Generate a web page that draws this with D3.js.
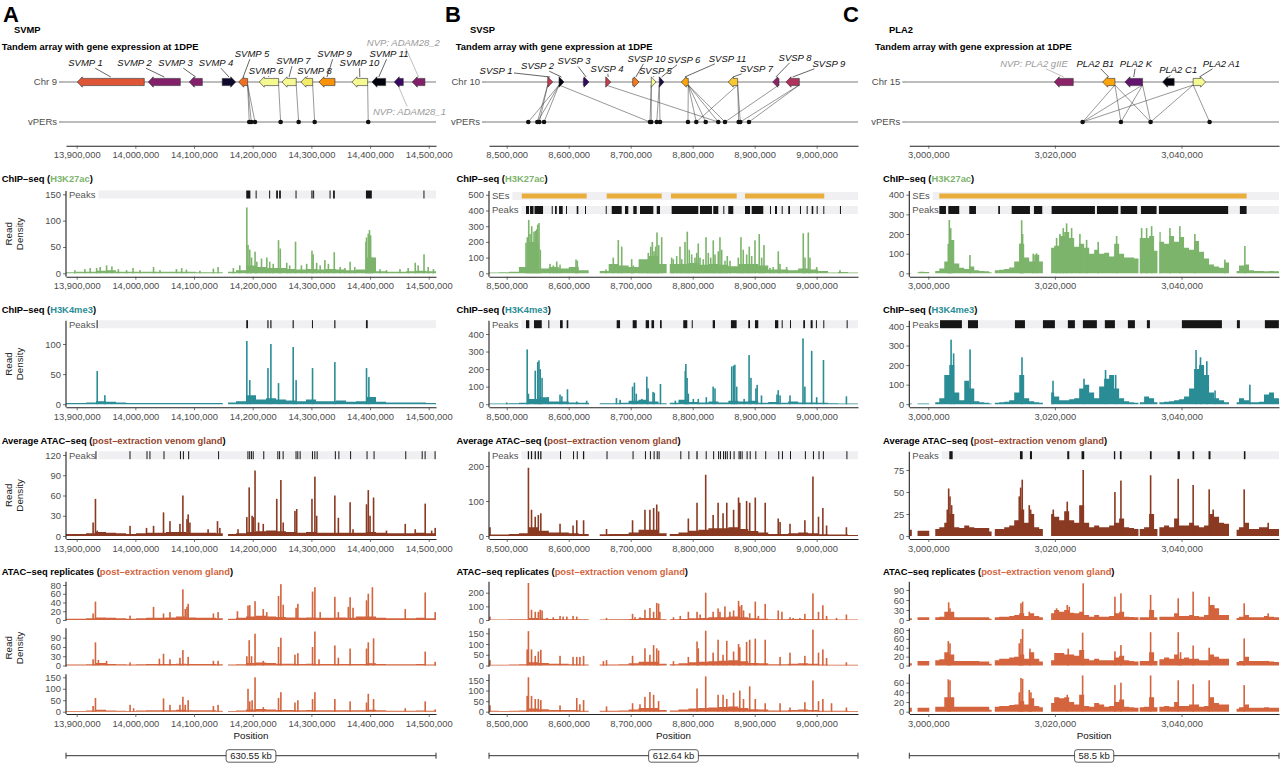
<!DOCTYPE html>
<html>
<head>
<meta charset="utf-8">
<script src="https://cdn.jsdelivr.net/npm/d3@7"></script>
<style>
  body { margin: 0; background: #fff; }
  svg text { font-family: "Liberation Sans", Arial, Helvetica, sans-serif; }
</style>
</head>
<body>
<svg id="fig" width="1280" height="763"></svg>
<script>
// ---------------- data (positions in kb) ----------------
const panelLetters = ["A", "B", "C"];
const families = ["SVMP", "SVSP", "PLA2"];
const chromosomes = ["Chr 9", "Chr 10", "Chr 15"];
const scaleLabels = ["630.55 kb", "612.64 kb", "58.5 kb"];
const domains = [[13881.8, 14512.4], [8471.4, 9066.7], [2997.0, 3055.4]];
const xTicks = [
  [13900, 14000, 14100, 14200, 14300, 14400, 14500],
  [8500, 8600, 8700, 8800, 8900, 9000],
  [3000, 3020, 3040]
];
const yTicks = [
  [[0, 50, 100, 150], [0, 50, 100], [0, 30, 60, 90, 120], [0, 20, 40, 60, 80], [0, 30, 60, 90], [0, 50, 100, 150]],
  [[0, 100, 200, 300, 400, 500], [0, 100, 200, 300, 400], [0, 100, 200], [0, 100, 200], [0, 50, 100, 150], [0, 50, 100, 150]],
  [[0, 100, 200, 300, 400], [0, 100, 200, 300, 400], [0, 25, 50, 75], [0, 30, 60, 90], [0, 20, 40, 60, 80], [0, 20, 40, 60]]
];
// expression level at 1DPE (0..1)
const svmpGenes = [
  {name: "SVMP 1", start: 13901.1, end: 14015.2, strand: -1, expr: 0.61},
  {name: "SVMP 2", start: 14022.0, end: 14076.6, strand: -1, expr: 0.36},
  {name: "SVMP 3", start: 14091.9, end: 14114.1, strand: -1, expr: 0.36},
  {name: "SVMP 4", start: 14148.1, end: 14171.0, strand: 1, expr: 0.08},
  {name: "SVMP 5", start: 14176.1, end: 14191.4, strand: -1, expr: 0.68},
  {name: "SVMP 6", start: 14211.2, end: 14244.2, strand: -1, expr: 0.98},
  {name: "SVMP 7", start: 14249.9, end: 14274.2, strand: -1, expr: 0.98},
  {name: "SVMP 8", start: 14282.2, end: 14302.2, strand: -1, expr: 0.94},
  {name: "SVMP 9", start: 14312.9, end: 14340.2, strand: -1, expr: 0.76},
  {name: "SVMP 10", start: 14369.1, end: 14395.9, strand: -1, expr: 0.98},
  {name: "SVMP 11", start: 14403.2, end: 14426.6, strand: -1, expr: 0.02},
  {name: "NVP: ADAM28_1", start: 14441.2, end: 14456.6, strand: -1, expr: 0.18, nvp: true},
  {name: "NVP: ADAM28_2", start: 14471.9, end: 14493.5, strand: -1, expr: 0.36, nvp: true}
];
const svspGenes = [
  {name: "SVSP 1", start: 8566.1, end: 8574.2, strand: 1, expr: 0.52},
  {name: "SVSP 2", start: 8584.4, end: 8592.4, strand: 1, expr: 0.03},
  {name: "SVSP 3", start: 8623.6, end: 8632.7, strand: 1, expr: 0.17},
  {name: "SVSP 4", start: 8659.7, end: 8667.8, strand: 1, expr: 0.53},
  {name: "SVSP 10", start: 8703.2, end: 8713.4, strand: 1, expr: 0.70},
  {name: "SVSP 5", start: 8733.2, end: 8740.8, strand: 1, expr: 0.98},
  {name: "SVSP 6", start: 8746.1, end: 8753.7, strand: 1, expr: 0.12},
  {name: "SVSP 11", start: 8781.6, end: 8792.9, strand: -1, expr: 0.80},
  {name: "SVSP 7", start: 8857.4, end: 8872.6, strand: -1, expr: 0.87},
  {name: "SVSP 8", start: 8929.1, end: 8939.2, strand: -1, expr: 0.38},
  {name: "SVSP 9", start: 8950.5, end: 8972.0, strand: -1, expr: 0.47}
];
const pla2Genes = [
  {name: "NVP: PLA2 gIIE", start: 3019.9, end: 3022.9, strand: -1, expr: 0.38, nvp: true},
  {name: "PLA2 B1", start: 3027.54, end: 3029.48, strand: -1, expr: 0.80},
  {name: "PLA2 K", start: 3031.06, end: 3033.85, strand: -1, expr: 0.28},
  {name: "PLA2 C1", start: 3037.01, end: 3038.84, strand: -1, expr: 0.02},
  {name: "PLA2 A1", start: 3041.84, end: 3043.80, strand: 1, expr: 0.98}
];
const svmpVpers = [14194.1, 14197.6, 14203.9, 14247.6, 14278.3, 14305.6, 14396.9];
const svspVpers = [8534.8, 8549.4, 8552.6, 8560.2, 8731.1, 8733.2, 8742.0, 8747.3, 8792.4, 8805.8, 8821.0, 8841.3, 8852.1, 8874.2, 8876.8, 8890.8];
const pla2Vpers = [3024.38, 3030.43, 3035.12, 3044.44];
const svmpLinks = [["SVMP 5", 14194.1], ["SVMP 5", 14197.6], ["SVMP 5", 14203.9], ["SVMP 6", 14247.6], ["SVMP 7", 14278.3], ["SVMP 8", 14305.6], ["SVMP 10", 14396.9]];
const svspLinks = [["SVSP 1", 8549.4], ["SVSP 1", 8552.6], ["SVSP 2", 8534.8], ["SVSP 2", 8549.4], ["SVSP 2", 8560.2], ["SVSP 2", 8731.1],
  ["SVSP 4", 8841.3], ["SVSP 5", 8731.1], ["SVSP 5", 8733.2], ["SVSP 6", 8742.0], ["SVSP 6", 8747.3],
  ["SVSP 11", 8792.4], ["SVSP 11", 8805.8], ["SVSP 11", 8821.0], ["SVSP 11", 8841.3], ["SVSP 11", 8852.1],
  ["SVSP 7", 8874.2], ["SVSP 7", 8876.8], ["SVSP 7", 8805.8], ["SVSP 8", 8852.1], ["SVSP 9", 8876.8], ["SVSP 9", 8890.8]];
const pla2Links = [["PLA2 B1", 3024.38], ["PLA2 B1", 3030.43], ["PLA2 B1", 3035.12], ["PLA2 K", 3024.38], ["PLA2 K", 3030.43], ["PLA2 K", 3035.12],
  ["PLA2 A1", 3024.38], ["PLA2 A1", 3035.12], ["PLA2 A1", 3044.44]];
const svmpGaps = [[14149, 14158]];
const svspGaps = [[8633, 8650], [8758, 8763]];
const pla2Gaps = [[2997.4, 2998.3], [3000.3, 3001.1], [3010.0, 3010.5], [3018.1, 3019.4], [3033.2, 3033.4], [3036.2, 3036.5], [3047.5, 3048.7]];

// ---- SVMP signal ----
const svmpH3K27acBg = [2,3,3,5,6,3,3,3,3,3,3,3,3,2,2,2,3,6,15,12,10,10,8,7,8,7,8,7,6,7,30,4,3,3,4,5,4];
const svmpH3K27acSpikes = [[13897,6],[13914,8],[13923,10],[13934,10],[13940,12],[13951,15],[13960,13],[13971,8],[13985,6],[13996,10],[14008,6],[14031,12],[14042,6],[14070,8],[14079,10],[14087,7],[14110,5],[14133,9],[14141,12],
  [14167,10],[14178,15],[14190,125],[14192,54],[14195,45],[14198,30],[14204,41],[14207,22],[14215,28],[14224,30],[14229,22],[14235,18],[14244,63],[14247,47],[14258,20],[14263,15],[14273,60],[14283,15],[14292,18],[14301,43],[14303,36],[14309,20],[14315,15],[14323,25],[14329,18],[14339,40],[14349,12],[14357,10],[14366,22],[14374,12],
  [14393,60],[14394,68],[14397,75],[14399,82],[14401,72],[14404,30],[14417,8],[14428,6],[14451,8],[14465,10],[14477,20],[14482,15],[14492,36],[14499,12],[14508,8]];
const svmpH3K27acPeaks = [[14189,14196],[14205,14206],[14228,14229],[14240,14243],[14245,14248],[14273,14274],[14300,14302],[14303,14304],[14331,14332],[14337,14340],[14393,14403],[14491,14492]];
const svmpH3K4me3Bg = [2,2,3,5,4,3,2,2,2,2,2,2,2,2,2,2,3,5,15,8,10,8,6,5,8,5,5,6,4,5,12,4,3,3,3,3,2];
const svmpH3K4me3Spikes = [[13935,55],[13948,15],[14190,105],[14195,40],[14226,60],[14231,100],[14244,35],[14269,95],[14274,40],[14302,60],[14340,70],[14394,60],[14398,45]];
const svmpH3K4me3Peaks = [[13934,13935],[14189,14192],[14225,14227],[14230,14232],[14268,14270],[14301,14302],[14339,14341],[14393,14396]];
const svmpAtacBg = [3,3,4,6,5,4,3,4,5,5,6,6,5,5,5,4,3,4,6,7,8,7,6,5,6,5,5,5,5,5,6,5,4,4,4,5,4];
const svmpAtacSpikes = [[13928,20],[13932,55],[13935,8],[13991,15],[14019,12],[14031,15],[14048,35],[14059,22],[14076,18],[14081,60],[14088,25],[14090,32],[14093,20],[14124,10],[14140,22],[14144,12],[14175,10],[14190,28],[14194,72],[14199,30],[14201,28],[14204,97],[14210,20],[14218,18],[14241,55],[14248,83],[14252,20],[14272,37],[14275,40],[14301,55],[14306,88],[14309,30],[14340,60],[14346,27],[14366,50],[14371,10],[14394,47],[14397,68],[14400,30],[14406,57],[14428,8],[14460,18],[14477,10],[14494,48],[14505,8],[14511,12]];
const svmpAtacPeaks = [[13932,13933],[13990,13991],[14019,14020],[14024,14025],[14048,14049],[14076,14077],[14081,14082],[14090,14091],[14141,14142],[14191,14192],[14194,14195],[14197,14198],[14200,14201],[14218,14219],[14242,14243],[14245,14246],[14251,14252],[14273,14274],[14276,14277],[14280,14281],[14301,14302],[14305,14306],[14309,14310],[14340,14341],[14346,14347],[14366,14367],[14394,14395],[14406,14407],[14460,14461],[14488,14489],[14493,14494],[14510,14511]];
const svmpRep1Bg = [3,3,4,6,5,4,3,4,5,5,6,8,6,5,5,4,3,5,8,10,8,7,6,5,6,5,5,6,5,8,8,5,4,4,4,5,4];
const svmpRep1Spikes = [[13928,15],[13932,42],[13991,10],[14031,30],[14048,15],[14059,18],[14081,70],[14085,25],[14088,30],[14090,37],[14133,15],[14141,18],[14174,20],[14192,33],[14195,34],[14204,43],[14218,25],[14224,18],[14244,55],[14248,82],[14252,35],[14274,28],[14277,37],[14302,65],[14306,75],[14315,18],[14340,53],[14346,18],[14363,30],[14366,52],[14371,28],[14394,45],[14397,60],[14404,75],[14460,25],[14494,63],[14511,18]];
const svmpRep2Bg = [3,3,4,8,5,4,3,4,5,5,5,6,5,5,5,4,3,4,8,10,8,6,6,5,6,5,5,5,5,5,7,5,4,4,4,5,3];
const svmpRep2Spikes = [[13928,20],[13932,75],[13937,18],[13951,15],[13991,10],[14041,22],[14048,38],[14059,20],[14076,25],[14081,50],[14090,28],[14133,15],[14141,15],[14190,30],[14194,82],[14198,30],[14204,103],[14218,15],[14244,60],[14248,90],[14272,35],[14277,40],[14302,60],[14306,110],[14313,20],[14340,65],[14346,25],[14366,55],[14394,55],[14397,75],[14406,88],[14494,45],[14511,12]];
const svmpRep3Bg = [3,3,5,8,5,4,3,5,6,6,6,8,6,6,6,4,3,5,10,12,10,7,7,6,7,6,6,6,6,6,8,6,4,4,4,5,4];
const svmpRep3Spikes = [[13928,25],[13932,60],[13991,30],[13997,15],[14048,58],[14059,30],[14076,30],[14081,65],[14085,30],[14090,50],[14133,25],[14141,30],[14192,100],[14195,45],[14199,50],[14204,150],[14218,20],[14244,60],[14248,85],[14272,40],[14277,50],[14302,55],[14306,85],[14340,55],[14366,45],[14394,40],[14397,78],[14406,55],[14460,15],[14494,45],[14511,10]];

// ---- SVSP signal ----
const svspH3K27acBg = [5,6,10,40,200,30,40,30,40,20,0,15,60,50,40,90,110,60,60,60,65,55,60,55,45,60,60,50,25,25,20,30,25,15,5,8,5];
const svspH3K27acSpikes = [[8531.1,195],[8533.2,230],[8535.5,340],[8537.6,250],[8540.3,300],[8542.4,200],[8544.0,265],[8546.1,270],[8548.4,280],[8550.0,310],[8552.1,320],[8554.2,150],[8569.8,60],[8575.2,50],[8580.7,75],[8586.0,55],[8611.8,88],[8613.9,80],[8660.2,25],[8671.9,100],[8680.0,212],[8685.5,170],[8701.6,90],[8704.2,50],[8715.0,35],[8720.3,40],[8725.8,30],[8728.4,130],[8732.3,170],[8734.9,200],[8737.6,140],[8740.3,170],[8742.4,260],[8745.2,180],[8750.0,230],
  [8766.1,100],[8768.7,90],[8774.2,110],[8779.5,170],[8782.3,90],[8787.6,200],[8791.3,265],[8794.5,150],[8798.4,120],[8803.7,100],[8806.5,130],[8809.0,190],[8811.8,100],[8817.1,90],[8821.5,230],[8825.2,130],[8829.1,100],[8833.2,210],[8836.0,120],[8841.3,140],[8844.0,230],[8846.8,150],[8852.1,80],[8855.8,110],[8860.2,80],
  [8873.6,100],[8877.9,230],[8881.6,150],[8887.1,120],[8891.3,170],[8895.2,110],[8900.5,210],[8907.4,250],[8911.3,100],[8915.0,180],[8924.7,35],[8930.0,40],[8938.1,140],[8940.8,60],[8951.6,40],[8978.4,255],[8981.2,100],[8986.5,260],[8989.2,100],[9000.0,40],[9037.6,20]];
const svspH3K27acSEs = [[8524.2, 8629.0], [8661.3, 8750.0], [8765.0, 8871.0], [8884.4, 9012.3]];
const svspH3K27acPeaks = [[8531.1,8536.0],[8537.6,8543.2],[8544.8,8558.6],[8572.6,8573.1],[8577.9,8580.7],[8584.4,8590.3],[8595.6,8596.5],[8612.9,8615.5],[8626.3,8627.1],[8659.7,8660.2],[8669.4,8685.5],[8690.8,8696.1],[8704.2,8709.7],[8715.0,8736.5],[8742.0,8747.3],[8766.1,8809.0],[8811.8,8831.1],[8833.2,8841.3],[8849.4,8850.5],[8857.4,8865.5],[8884.4,8892.5],[8895.2,8913.9],[8924.7,8925.5],[8932.8,8936.0],[8943.6,8944.9],[8954.2,8957.0],[8973.1,8973.9],[8983.9,8985.2],[8992.0,8994.5],[9000.0,9001.3],[9010.7,9011.8],[9037.6,9038.4]];
const svspH3K4me3Bg = [4,4,5,8,30,40,15,15,10,8,5,5,5,8,20,25,15,5,8,25,12,10,15,10,20,15,20,8,12,8,15,10,10,8,5,4,4];
const svspH3K4me3Spikes = [[8500,10],[8533,312],[8535,60],[8546,191],[8550,240],[8552,250],[8554,200],[8557,150],[8567,40],[8586,55],[8589,45],[8598,85],[8613,15],[8629,20],[8677,35],[8683,25],[8703,100],[8706,123],[8709,60],[8718,30],[8726,157],[8728,90],[8736,70],[8738,65],[8748,115],[8772,20],[8788,190],[8789,229],[8791,150],[8793,60],[8801,30],[8809,30],[8822,40],[8833,100],[8836,90],[8863,215],[8866,220],[8868,225],[8871,100],[8883,30],[8891,280],[8894,150],[8902,90],[8904,110],[8911,50],[8936,55],[8938,80],[8941,50],[8957,50],[8978,375],[8981,100],[8992,304],[9000,40],[9011,252],[9048,45]];
const svspH3K4me3Peaks = [[8531.1,8536.4],[8544.0,8556.5],[8567.1,8567.6],[8586.0,8590.3],[8596.7,8599.3],[8677.4,8682.8],[8703.2,8709.7],[8724.2,8729.6],[8733.5,8737.7],[8747.3,8750.0],[8784.8,8791.3],[8798.5,8799.2],[8832.3,8836.0],[8861.7,8870.9],[8889.7,8892.5],[8900.5,8905.8],[8932.8,8938.1],[8943.6,8944.3],[8957.0,8957.7],[8978.4,8981.2],[8990.3,8993.5],[8998.8,8999.5],[9010.7,9011.4],[9048.4,9049.1]];
const svspAtacBg = [4,4,6,8,25,15,10,10,8,6,0,5,6,6,10,18,18,8,6,10,15,18,22,22,25,20,14,10,6,6,8,10,8,5,4,4,3];
const svspAtacSpikes = [[8473,25],[8535,195],[8540,75],[8546,55],[8551,60],[8555,65],[8586,35],[8607,30],[8613,45],[8624,45],[8661,20],[8703,45],[8723,75],[8731,75],[8737,80],[8742,90],[8745,70],[8793,50],[8807,95],[8821,175],[8833,60],[8841,95],[8849,65],[8855,95],[8866,75],[8874,110],[8876,95],[8887,100],[8892,95],[8901,110],[8917,95],[8938,50],[8941,40],[8957,35],[8981,45],[8994,170],[9003,55],[9010,80],[9016,30],[9048,25]];
const svspAtacPeaks = [[8534,8536],[8539,8541],[8545,8547],[8550,8552],[8554,8556],[8586,8587],[8607,8608],[8613,8614],[8623,8625],[8661,8662],[8703,8704],[8723,8724],[8731,8732],[8737,8738],[8742,8743],[8745,8746],[8780,8781],[8793,8794],[8806,8808],[8821,8822],[8833,8834],[8841,8842],[8844,8845],[8849,8850],[8852,8853],[8855,8856],[8860,8861],[8866,8867],[8874,8875],[8876,8877],[8879,8880],[8887,8888],[8892,8893],[8901,8902],[8917,8918],[8938,8939],[8944,8945],[8957,8958],[8981,8982],[8994,8995],[9003,9004],[9010,9011],[9048,9049]];
const svspRep1Bg = [3,3,5,6,15,10,8,6,5,5,0,4,5,5,8,15,15,6,5,8,12,15,20,20,25,20,12,10,6,6,8,8,8,5,4,4,4];
const svspRep1Spikes = [[8473,25],[8535,271],[8540,75],[8546,60],[8551,60],[8554,75],[8557,70],[8565,15],[8575,20],[8586,30],[8591,25],[8597,25],[8607,30],[8613,25],[8661,15],[8703,45],[8707,20],[8715,20],[8723,75],[8731,88],[8737,60],[8742,125],[8745,120],[8747,60],[8769,20],[8780,30],[8793,60],[8807,60],[8812,40],[8821,200],[8833,60],[8841,85],[8844,60],[8852,100],[8860,60],[8866,70],[8874,140],[8876,100],[8879,110],[8882,70],[8892,50],[8901,135],[8906,30],[8917,118],[8938,70],[8944,60],[8957,20],[8962,15],[8973,15],[8981,45],[8994,195],[9003,60],[9010,108],[9016,30],[9032,15],[9048,40]];
const svspRep2Bg = [3,3,5,6,15,12,8,8,6,5,0,5,5,6,10,18,18,8,6,10,15,18,20,22,25,20,12,10,6,6,8,10,8,5,4,4,3];
const svspRep2Spikes = [[8473,25],[8533,75],[8535,160],[8540,75],[8546,45],[8551,65],[8555,73],[8586,45],[8607,40],[8613,40],[8618,40],[8624,45],[8656,20],[8661,25],[8703,45],[8723,80],[8731,50],[8737,95],[8742,80],[8745,70],[8769,20],[8793,40],[8807,112],[8809,80],[8821,162],[8833,60],[8841,120],[8849,50],[8855,115],[8866,65],[8874,100],[8876,85],[8887,110],[8892,120],[8901,125],[8917,120],[8941,40],[8957,60],[8981,45],[8994,167],[9003,60],[9010,75],[9016,35],[9048,15]];
const svspRep3Bg = [5,3,5,6,15,12,8,8,8,5,0,5,5,6,10,18,18,8,6,10,15,18,20,22,25,18,12,10,6,6,8,10,8,5,4,4,3];
const svspRep3Spikes = [[8473,30],[8533,75],[8535,163],[8540,75],[8546,60],[8551,60],[8555,55],[8586,30],[8613,65],[8618,35],[8624,55],[8661,25],[8703,40],[8715,35],[8723,70],[8731,93],[8737,80],[8745,50],[8807,110],[8821,167],[8841,80],[8849,80],[8855,60],[8866,90],[8876,100],[8882,60],[8892,120],[8901,60],[8917,40],[8941,40],[8957,20],[8981,45],[8994,148],[9003,50],[9010,60],[9024,40],[9048,20]];

// ---- PLA2 signal ----
const pla2H3K27acBg = [2,5,8,6,0,12,25,60,170,50,28,22,35,15,12,10,5,15,18,22,30,60,150,80,60,95,60,0,130,140,190,210,180,135,150,130,100,120,100,105,85,150,100,80,80,75,180,180,190,115,160,150,190,160,185,130,120,165,110,75,45,35,28,55,0,12,40,45,15,12,12,10,12,10];
const pla2H3K27acSpikes = [[3003.16,150],[3003.32,271],[3003.54,230],[3003.74,160],[3006.58,93],[3014.48,150],[3014.75,270],[3014.9,200],[3016.58,100],[3017.1,102],[3020.27,180],[3020.8,200],[3021.32,230],[3021.85,254],[3022.64,230],[3023.95,200],[3025.01,170],[3026.84,160],[3029.75,190],[3033.7,230],[3034.49,230],[3035.28,240],[3036.59,210],[3038.17,230],[3039.74,240],[3042.11,200],[3046.85,70],[3050.01,139]];
const pla2H3K27acSEs = [[3001.74, 3050.28]];
const pla2H3K27acPeaks = [[3001.74,3002.79],[3003.16,3004.89],[3006.47,3007.53],[3011.05,3011.32],[3013.17,3016.06],[3016.69,3018.0],[3019.48,3026.32],[3026.64,3030.0],[3030.38,3033.0],[3033.59,3036.06],[3036.43,3047.37],[3049.22,3050.28]];
const pla2H3K4me3Bg = [3,3,4,4,0,10,30,150,200,60,20,120,80,15,10,8,4,8,10,12,20,60,150,30,15,10,8,0,60,40,20,20,25,30,80,100,60,30,90,130,150,80,30,15,10,8,10,40,30,10,10,12,15,20,25,40,80,180,200,150,60,30,20,10,0,10,30,20,10,10,12,50,60,30];
const pla2H3K4me3Spikes = [[3003.6,330],[3004.0,260],[3006.6,280],[3014.8,240],[3019.7,120],[3024.6,130],[3028.0,175],[3029.6,150],[3042.3,277],[3043.0,240],[3044.0,220],[3045.3,70],[3050.8,100]];
const pla2H3K4me3Peaks = [[3001.85,3005.31],[3006.27,3007.85],[3013.69,3015.27],[3018.11,3020.0],[3022.05,3023.16],[3024.42,3026.63],[3027.89,3029.48],[3031.53,3032.64],[3034.53,3035.01],[3040.06,3046.38],[3048.75,3049.22],[3053.17,3055.38]];
const pla2AtacBg = [7,6,6,6,0,8,10,15,25,10,9,12,10,9,9,9,5,8,8,10,12,18,30,15,25,10,8,0,25,22,18,28,18,15,35,15,10,12,10,10,12,15,20,10,9,8,8,10,25,8,10,12,10,20,12,12,15,12,10,12,25,22,15,14,0,7,10,15,8,8,10,10,8,8];
const pla2AtacSpikes = [[3003.0,30],[3003.22,54],[3003.43,45],[3003.69,35],[3014.37,45],[3014.59,55],[3014.84,64],[3015.95,35],[3016.17,30],[3019.74,30],[3021.95,39],[3024.47,75],[3029.48,50],[3030.43,63],[3035.12,69],[3039.48,65],[3041.84,58],[3044.37,53],[3045.0,30],[3049.9,53],[3053.69,15]];
const pla2AtacPeaks = [[3003.32,3003.85],[3014.48,3014.9],[3016.06,3016.38],[3021.95,3022.27],[3024.21,3024.63],[3029.32,3029.53],[3030.27,3030.53],[3035.01,3035.28],[3039.38,3039.74],[3041.74,3042.0],[3044.27,3044.58],[3049.85,3050.1]];
const pla2Rep1Bg = [5,8,8,8,0,8,10,25,25,8,8,8,8,8,8,8,4,8,10,10,12,15,20,12,20,12,8,0,20,30,25,30,22,20,25,15,10,15,10,10,12,20,25,10,9,8,8,8,30,8,10,10,10,20,12,12,15,12,10,15,45,35,15,15,0,6,10,15,8,8,8,12,10,8];
const pla2Rep1Spikes = [[3003.22,53],[3003.43,35],[3014.64,50],[3014.9,55],[3015.95,25],[3020.27,35],[3021.95,45],[3022.27,40],[3024.47,110],[3029.48,70],[3030.43,80],[3035.12,75],[3039.48,65],[3041.84,85],[3044.37,70],[3045.1,45],[3049.9,50],[3053.69,20]];
const pla2Rep2Bg = [5,10,10,10,0,12,14,30,25,10,10,10,10,10,9,9,4,12,15,15,18,20,25,15,30,15,9,0,12,28,28,25,25,22,35,15,12,15,12,12,12,18,22,12,10,9,10,10,30,10,14,18,15,25,15,18,15,15,12,12,25,20,15,15,0,8,10,20,10,10,10,10,9,8];
const pla2Rep2Spikes = [[3003.16,55],[3003.43,50],[3014.37,50],[3014.64,60],[3014.9,82],[3016.06,38],[3022.11,38],[3024.38,74],[3029.48,32],[3030.43,46],[3035.12,75],[3039.48,75],[3039.85,30],[3041.84,45],[3044.37,40],[3049.9,61]];
const pla2Rep3Bg = [8,8,8,8,0,10,10,30,30,10,10,10,10,10,10,10,4,10,12,12,14,15,22,15,28,12,9,0,18,30,28,30,20,15,35,12,10,18,15,10,12,20,25,10,9,8,9,10,30,9,10,12,10,20,12,12,15,15,10,12,30,18,15,15,0,6,9,15,8,8,8,9,8,8];
const pla2Rep3Spikes = [[3003.16,67],[3003.43,65],[3014.37,40],[3014.64,70],[3014.9,68],[3015.95,45],[3016.22,40],[3021.95,35],[3024.38,75],[3029.48,55],[3030.43,60],[3035.12,75],[3039.48,65],[3041.84,57],[3044.37,65],[3049.9,55]];

// ---------------- layout ----------------
const svg = d3.select("#fig");
const defs = svg.append("defs");
const fmt = d3.format(",");
const GREY = "#4d4d4d";
const colH3K27ac = "#7cb46b", colH3K4me3 = "#2a8d96", colAtac = "#8a3a22", colRep = "#d3643d", colSE = "#e8ad3a";

const panelX = [[66, 436], [489, 858], [909.3, 1279]];
const letterX = [3, 445, 843];
const familyX = [14, 470, 889];
const geneTitleX = [1.7, 455.7, 875];
const trackTitleX = [1.7, 456.5, 883];
// value at top tick and its pixel row, per panel x row
const yCal = [
  [[150, 194.3], [100, 344], [120, 455], [80, 585], [90, 637.7], [150, 677.3]],
  [[500, 194.8], [400, 334], [200, 466], [200, 592.7], [150, 633.3], [150, 680]],
  [[400, 194.7], [400, 326], [75, 470], [90, 590], [80, 630], [60, 682.7]]
];
const rows = [
  {top: 191, zero: 273.3, bottom: 276.7, axis: true},
  {top: 320.7, zero: 404.2, bottom: 407.3, axis: true},
  {top: 451.7, zero: 536, bottom: 539, axis: true},
  {top: 581.7, zero: 620, bottom: 620.7, axis: false},
  {top: 628.3, zero: 665.5, bottom: 666.7, axis: false},
  {top: 674.3, zero: 711.7, bottom: 714, axis: true}
];
const titles = [
  {y: 181.7, pre: "ChIP–seq (", mark: "H3K27ac", col: colH3K27ac},
  {y: 312.5, pre: "ChIP–seq (", mark: "H3K4me3", col: colH3K4me3},
  {y: 444, pre: "Average ATAC–seq (", mark: "post–extraction venom gland", col: "#94452d"},
  {y: 575, pre: "ATAC–seq replicates (", mark: "post–extraction venom gland", col: colRep}
];
// label centre offsets from gene centre (px) and label centre y (px)
const labelPos = [
  {"SVMP 1": [-25.3, 62.7], "SVMP 2": [-29.8, 62.7], "SVMP 3": [-20.3, 62.7], "SVMP 4": [-13, 62.7], "SVMP 5": [8.8, 53.7],
   "SVMP 6": [-3, 70.7], "SVMP 7": [4.3, 60.7], "SVMP 8": [7.7, 70.7], "SVMP 9": [7.5, 53.7], "SVMP 10": [-0.3, 62.7],
   "SVMP 11": [10.2, 53.7], "NVP: ADAM28_1": [10.7, 112], "NVP: ADAM28_2": [-15.2, 42.7]},
  {"SVSP 1": [-54.2, 71], "SVSP 2": [-24, 65.7], "SVSP 3": [-12.2, 61], "SVSP 4": [-1.2, 68.3], "SVSP 10": [10.7, 58.3],
   "SVSP 5": [1.8, 70.7], "SVSP 6": [22.3, 59.3], "SVSP 11": [42.7, 58.3], "SVSP 7": [23.5, 68.3], "SVSP 8": [19.2, 57.3], "SVSP 9": [36.3, 63.3]},
  {"NVP: PLA2 gIIE": [-29.8, 63.3], "PLA2 B1": [-13.5, 63.3], "PLA2 K": [2.2, 63.3], "PLA2 C1": [9.8, 70], "PLA2 A1": [22, 63.3]}
];

const panelData = [
  {genes: svmpGenes, vpers: svmpVpers, links: svmpLinks, gaps: svmpGaps,
   tracks: [
     {bg: svmpH3K27acBg, spikes: svmpH3K27acSpikes, peaks: svmpH3K27acPeaks, col: colH3K27ac},
     {bg: svmpH3K4me3Bg, spikes: svmpH3K4me3Spikes, peaks: svmpH3K4me3Peaks, col: colH3K4me3},
     {bg: svmpAtacBg, spikes: svmpAtacSpikes, peaks: svmpAtacPeaks, col: colAtac},
     {bg: svmpRep1Bg, spikes: svmpRep1Spikes, col: colRep},
     {bg: svmpRep2Bg, spikes: svmpRep2Spikes, col: colRep},
     {bg: svmpRep3Bg, spikes: svmpRep3Spikes, col: colRep}]},
  {genes: svspGenes, vpers: svspVpers, links: svspLinks, gaps: svspGaps,
   tracks: [
     {bg: svspH3K27acBg, spikes: svspH3K27acSpikes, peaks: svspH3K27acPeaks, ses: svspH3K27acSEs, col: colH3K27ac},
     {bg: svspH3K4me3Bg, spikes: svspH3K4me3Spikes, peaks: svspH3K4me3Peaks, col: colH3K4me3},
     {bg: svspAtacBg, spikes: svspAtacSpikes, peaks: svspAtacPeaks, col: colAtac},
     {bg: svspRep1Bg, spikes: svspRep1Spikes, col: colRep},
     {bg: svspRep2Bg, spikes: svspRep2Spikes, col: colRep},
     {bg: svspRep3Bg, spikes: svspRep3Spikes, col: colRep}]},
  {genes: pla2Genes, vpers: pla2Vpers, links: pla2Links, gaps: pla2Gaps,
   tracks: [
     {bg: pla2H3K27acBg, spikes: pla2H3K27acSpikes, peaks: pla2H3K27acPeaks, ses: pla2H3K27acSEs, col: colH3K27ac},
     {bg: pla2H3K4me3Bg, spikes: pla2H3K4me3Spikes, peaks: pla2H3K4me3Peaks, col: colH3K4me3},
     {bg: pla2AtacBg, spikes: pla2AtacSpikes, peaks: pla2AtacPeaks, col: colAtac},
     {bg: pla2Rep1Bg, spikes: pla2Rep1Spikes, col: colRep},
     {bg: pla2Rep2Bg, spikes: pla2Rep2Spikes, col: colRep},
     {bg: pla2Rep3Bg, spikes: pla2Rep3Spikes, col: colRep}]}
];

// ---------------- helpers ----------------
function gapClip(id, x, gaps) {
  const [d0, d1] = x.domain();
  const keep = [];
  let cur = d0;
  gaps.forEach(([a, b]) => { keep.push([cur, a]); cur = b; });
  keep.push([cur, d1]);
  const cp = defs.append("clipPath").attr("id", id);
  keep.forEach(([a, b]) => cp.append("rect")
    .attr("x", x(a)).attr("width", Math.max(0, x(b) - x(a)))
    .attr("y", 0).attr("height", 763));
}

function drawSignal(g, x, y, t, clipId, topPx) {
  const [d0, d1] = x.domain();
  const step = (d1 - d0) / t.bg.length;
  const pts = t.bg.map((v, i) => [d0 + i * step, v]).concat([[d1, t.bg[t.bg.length - 1]]]);
  const layer = g.append("g").attr("clip-path", `url(#${clipId})`);
  layer.append("path")
    .attr("d", d3.area().curve(d3.curveStepAfter)
      .x(d => x(d[0])).y0(y(0)).y1(d => Math.max(topPx, y(d[1])))(pts))
    .attr("fill", t.col);
  layer.selectAll("rect").data(t.spikes).join("rect")
    .attr("x", d => x(d[0]) - 0.8).attr("width", 1.6)
    .attr("y", d => Math.max(topPx, y(d[1])))
    .attr("height", d => y(0) - Math.max(topPx, y(d[1])))
    .attr("fill", t.col);
}

function drawStrip(g, x, cy, label, intervals, color, barH) {
  const [x0, x1] = x.range();
  const lab = g.append("text").attr("x", x0 + 3).attr("y", cy + 3.3)
    .attr("font-size", 9.5).attr("fill", "#555").text(label);
  const lw = lab.node().getComputedTextLength();
  g.insert("rect", "text").attr("x", x0 + 6 + lw).attr("width", x1 - x0 - 6 - lw)
    .attr("y", cy - 4).attr("height", 8).attr("fill", "#f0f0f3");
  g.selectAll(null).data(intervals).join("rect")
    .attr("x", d => x(d[0]))
    .attr("width", d => Math.max(1, x(d[1]) - x(d[0])))
    .attr("y", cy - barH / 2).attr("height", barH)
    .attr("fill", color);
}

function arrowPath(xs, xe, strand, cy) {
  const bh = 3.6, hh = 5.2;
  const hl = Math.min(5, xe - xs);
  if (strand > 0) {
    return `M${xs},${cy - bh}L${xe - hl},${cy - bh}L${xe - hl},${cy - hh}L${xe},${cy}L${xe - hl},${cy + hh}L${xe - hl},${cy + bh}L${xs},${cy + bh}Z`;
  }
  return `M${xe},${cy - bh}L${xs + hl},${cy - bh}L${xs + hl},${cy - hh}L${xs},${cy}L${xs + hl},${cy + hh}L${xs + hl},${cy + bh}L${xe},${cy + bh}Z`;
}

function styleXAxis(a) {
  a.select(".domain").attr("stroke", "#222").attr("stroke-width", 1.1);
  a.selectAll(".tick line").attr("stroke", GREY).attr("stroke-width", 0.8);
  a.selectAll(".tick text").attr("font-size", 9.4).attr("fill", GREY)
    .attr("font-family", "Liberation Sans, Arial, sans-serif");
}

// ---------------- draw panels ----------------
panelData.forEach((pd, pi) => {
  const [x0, x1] = panelX[pi];
  const x = d3.scaleLinear().domain(domains[pi]).range([x0, x1]);
  const clipId = "gaps" + pi;
  gapClip(clipId, x, pd.gaps);
  const g = svg.append("g");

  // headings
  g.append("text").attr("x", letterX[pi]).attr("y", 21.7).attr("font-size", 22)
    .attr("font-weight", "bold").text(panelLetters[pi]);
  g.append("text").attr("x", familyX[pi]).attr("y", 32.5).attr("font-size", 9.4)
    .attr("font-weight", "bold").text(families[pi]);
  g.append("text").attr("x", geneTitleX[pi]).attr("y", 50).attr("font-size", 9.4)
    .attr("font-weight", "bold").text("Tandem array with gene expression at 1DPE");

  // gene track
  const chrY = 82, vperY = 122;
  [[chrY, chromosomes[pi]], [vperY, "vPERs"]].forEach(([yy, lab]) => {
    g.append("line").attr("x1", x0 - 3).attr("x2", x1).attr("y1", yy).attr("y2", yy)
      .attr("stroke", "#bdbdbd").attr("stroke-width", 1.8);
    g.append("line").attr("x1", x0 - 7).attr("x2", x0 - 3).attr("y1", yy).attr("y2", yy)
      .attr("stroke", GREY).attr("stroke-width", 0.8);
    g.append("text").attr("x", x0 - 9).attr("y", yy + 3.3).attr("text-anchor", "end")
      .attr("font-size", 9.5).attr("fill", GREY).text(lab);
  });
  const geneBy = new Map(pd.genes.map(d => [d.name, d]));
  const tss = d => x(d.strand > 0 ? d.start : d.end);
  g.selectAll(null).data(pd.links).join("line")
    .attr("x1", d => tss(geneBy.get(d[0]))).attr("y1", chrY + 3)
    .attr("x2", d => x(d[1])).attr("y2", vperY)
    .attr("stroke", "#3a3a3a").attr("stroke-opacity", 0.75).attr("stroke-width", 0.7);
  g.selectAll(null).data(pd.genes).join("path")
    .attr("d", d => arrowPath(x(d.start), x(d.end), d.strand, chrY))
    .attr("fill", d => d3.interpolateInferno(d.expr))
    .attr("stroke", "#2b2b2b").attr("stroke-width", 0.6);
  g.selectAll(null).data(pd.vpers).join("circle")
    .attr("cx", d => x(d)).attr("cy", vperY).attr("r", 2.3).attr("fill", "#111");

  // gene labels with leader segments
  pd.genes.forEach(d => {
    const [dx, ly] = labelPos[pi][d.name];
    const gcx = (x(d.start) + x(d.end)) / 2;
    const lcx = gcx + dx;
    const col = d.nvp ? "#9a9a9a" : "#111";
    const t = g.append("text").attr("x", lcx).attr("y", ly + 3.4).attr("text-anchor", "middle")
      .attr("font-size", 9.5).attr("font-style", "italic").attr("fill", col).text(d.name);
    const w = t.node().getComputedTextLength() / 2 + 1.5, h = 5.5;
    const ty = ly < chrY ? chrY - 5 : chrY + 5;
    const vx = gcx - lcx, vy = ty - ly;
    const s = Math.min(vx !== 0 ? w / Math.abs(vx) : Infinity, vy !== 0 ? h / Math.abs(vy) : Infinity);
    if (s < 1) {
      g.append("line").attr("x1", lcx + vx * s).attr("y1", ly + vy * s).attr("x2", gcx).attr("y2", ty)
        .attr("stroke", col).attr("stroke-width", 0.65);
    }
  });
  // gene track axis
  const ga = g.append("g").attr("transform", "translate(0,145.7)")
    .call(d3.axisBottom(x).tickValues(xTicks[pi]).tickFormat(v => fmt(v * 1000)).tickSize(3).tickSizeOuter(0));
  styleXAxis(ga);

  // signal tracks
  rows.forEach((r, ri) => {
    const t = pd.tracks[ri];
    const [vTop, pTop] = yCal[pi][ri];
    const y = d3.scaleLinear().domain([0, vTop]).range([r.zero, pTop]);
    const sg = g.append("g");
    if (ri <= 3) {
      const tt = titles[ri];
      const tx = sg.append("text").attr("x", trackTitleX[pi]).attr("y", tt.y)
        .attr("font-size", 9.4).attr("font-weight", "bold");
      tx.append("tspan").text(tt.pre);
      tx.append("tspan").attr("fill", tt.col).text(tt.mark);
      tx.append("tspan").text(")");
    }
    drawSignal(sg, x, y, t, clipId, r.top);
    if (t.ses) {
      drawStrip(sg, x, r.top + 5, "SEs", t.ses, colSE, 5);
      drawStrip(sg, x, r.top + 19, "Peaks", t.peaks, "#161616", 8);
    } else if (t.peaks) {
      drawStrip(sg, x, r.top + 3.5, "Peaks", t.peaks, "#161616", 8);
    }
    // y axis
    const ya = sg.append("g").attr("transform", `translate(${x0},0)`)
      .call(d3.axisLeft(y).tickValues(yTicks[pi][ri]).tickSize(3).tickPadding(2));
    ya.select(".domain").remove();
    ya.selectAll(".tick line").attr("stroke", GREY).attr("stroke-width", 0.8);
    ya.selectAll(".tick text").attr("font-size", 9.4).attr("fill", GREY)
      .attr("font-family", "Liberation Sans, Arial, sans-serif");
    sg.append("line").attr("x1", x0).attr("x2", x0).attr("y1", r.top).attr("y2", r.bottom)
      .attr("stroke", "#222").attr("stroke-width", 1.1);
    if (r.axis) {
      const xa = sg.append("g").attr("transform", `translate(0,${r.bottom})`)
        .call(d3.axisBottom(x).tickValues(xTicks[pi]).tickFormat(v => fmt(v * 1000)).tickSize(3).tickSizeOuter(0));
      styleXAxis(xa);
    }
  });

  g.append("text").attr("x", (x0 + x1) / 2).attr("y", 738.5).attr("text-anchor", "middle")
    .attr("font-size", 9.8).attr("fill", "#111").text("Position");

  // scale bar
  const sy = 755.7;
  g.append("line").attr("x1", x0).attr("x2", x1).attr("y1", sy).attr("y2", sy).attr("stroke", "#333").attr("stroke-width", 1);
  [x0, x1].forEach(xx => g.append("line").attr("x1", xx).attr("x2", xx).attr("y1", sy - 3).attr("y2", sy + 3)
    .attr("stroke", "#333").attr("stroke-width", 1));
  const st = g.append("text").attr("x", (x0 + x1) / 2).attr("y", sy + 3.4).attr("text-anchor", "middle")
    .attr("font-size", 9.5).attr("fill", "#222").text(scaleLabels[pi]);
  const sw = st.node().getComputedTextLength();
  g.insert("rect", () => st.node()).attr("x", (x0 + x1) / 2 - sw / 2 - 4).attr("width", sw + 8)
    .attr("y", sy - 6).attr("height", 12.5).attr("rx", 2.5)
    .attr("fill", "#fff").attr("stroke", "#333").attr("stroke-width", 0.8);
});

// "Read Density" titles (panel A only)
rows.filter((r, i) => i < 3).map(r => (r.top + r.bottom) / 2).concat([(rows[3].top + rows[5].bottom) / 2])
  .forEach(cy => {
    const t = svg.append("text").attr("transform", `translate(12,${cy}) rotate(-90)`)
      .attr("text-anchor", "middle").attr("font-size", 9.8).attr("fill", "#222");
    t.append("tspan").attr("x", 0).attr("dy", 0).text("Read");
    t.append("tspan").attr("x", 0).attr("dy", 11).text("Density");
  });
</script>
</body>
</html>
